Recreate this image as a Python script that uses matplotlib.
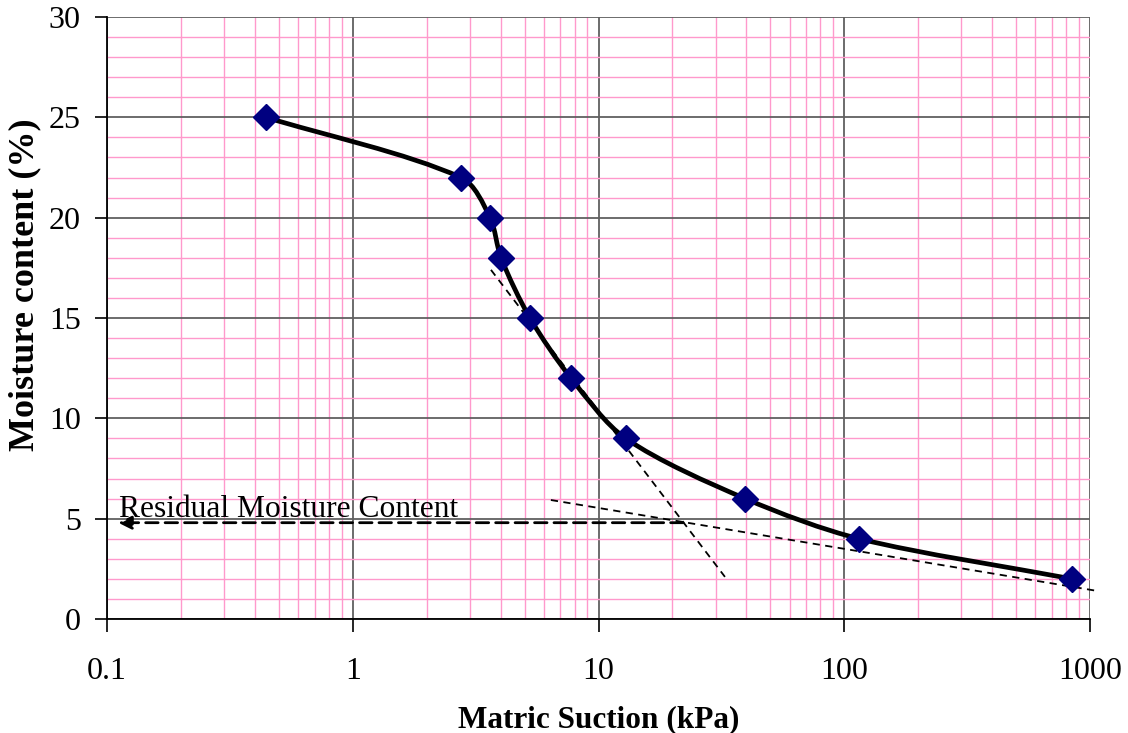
import numpy as np
import matplotlib
matplotlib.use("Agg")
import matplotlib.pyplot as plt
from matplotlib.path import Path
from matplotlib.patches import PathPatch
from matplotlib.ticker import LogLocator, MultipleLocator, FixedFormatter, FixedLocator

plt.rcParams["font.family"] = ["Liberation Serif", "DejaVu Serif"]

# measured points (suction in kPa, moisture content in %)
suction = [0.444, 2.76, 3.62, 4.01, 5.26, 7.73, 12.9, 39.5, 115.0, 845.0]
moisture = [25, 22, 20, 18, 15, 12, 9, 6, 4, 2]

# construction lines for residual moisture content
steep_x = [3.65, 32.7]
steep_y = [17.4, 2.1]
flat_x = [6.4, 1070.0]
flat_y = [5.93, 1.40]
resid_x = [22.1, 0.111]
resid_y = [4.8, 4.8]

x_ticks = [0.1, 1, 10, 100, 1000]
x_labels = ["0.1", "1", "10", "100", "1000"]

fig = plt.figure(figsize=(11.28, 7.33), dpi=100)
ax = fig.add_axes([0.0949, 0.1555, 0.8714, 0.8213])
ax.set_xscale("log")
ax.set_xlim(0.1, 1000)
ax.set_ylim(0, 30)

pink = "#ff99cc"
ax.xaxis.set_major_locator(FixedLocator(x_ticks))
ax.xaxis.set_major_formatter(FixedFormatter(x_labels))
ax.xaxis.set_minor_locator(LogLocator(base=10, subs=np.arange(2, 10)))
ax.xaxis.set_minor_formatter(plt.NullFormatter())
ax.yaxis.set_major_locator(MultipleLocator(5))
ax.yaxis.set_minor_locator(MultipleLocator(1))
ax.grid(which="minor", color=pink, lw=1.0)
ax.grid(which="major", color="#606060", lw=1.3)
ax.set_axisbelow(True)
ax.tick_params(which="minor", length=0)
ax.tick_params(which="major", direction="out", length=9, width=1.2, labelsize=23, color="black")
ax.tick_params(axis="x", pad=18)
ax.tick_params(axis="y", pad=10)
for s in ["top", "right"]:
    ax.spines[s].set_visible(False)
for s in ["left", "bottom"]:
    ax.spines[s].set_color("black")
    ax.spines[s].set_linewidth(1.3)

# smoothed line: Bezier segments built in display-like units (log-x decades vs %)
sx, sy = 245.75, 20.07
pts = np.column_stack([np.log10(suction) * sx, np.array(moisture, float) * sy])
n = len(pts)
verts = [pts[0]]
codes = [Path.MOVETO]
for i in range(n - 1):
    a = pts[max(i - 1, 0)]
    b = pts[min(i + 2, n - 1)]
    d = np.linalg.norm(pts[i + 1] - pts[i])
    t1 = pts[i + 1] - a
    t2 = b - pts[i]
    c1 = pts[i] + t1 / np.linalg.norm(t1) * d * 0.3
    c2 = pts[i + 1] - t2 / np.linalg.norm(t2) * d * 0.3
    verts += [c1, c2, pts[i + 1]]
    codes += [Path.CURVE4] * 3
verts = np.array(verts)
verts[:, 0] = 10 ** (verts[:, 0] / sx)
verts[:, 1] = verts[:, 1] / sy
ax.add_patch(PathPatch(Path(verts, codes), fill=False, lw=3.4, color="black", zorder=3))

ax.plot(suction, moisture, ls="none", marker="D", ms=13.5, color="#000080",
        mec="#000080", zorder=4)

ax.plot(steep_x, steep_y, ls=(0, (4, 3)), color="black", lw=1.3, zorder=2)
ax.plot(flat_x, flat_y, ls=(0, (4, 3)), color="black", lw=1.3, zorder=2, clip_on=False)
ax.annotate("", xy=(resid_x[1], resid_y[1]), xytext=(resid_x[0], resid_y[0]),
            arrowprops=dict(arrowstyle="-|>", color="black", lw=2.0, ls=(0, (4.5, 2.5)),
                            mutation_scale=20, shrinkA=0, shrinkB=0), zorder=2)
ax.text(0.112, 5.45, "Residual Moisture Content", fontsize=22.7, va="center", ha="left", zorder=5)

ax.set_xlabel("Matric Suction (kPa)", fontsize=22.5, fontweight="bold", labelpad=14)
ax.set_ylabel("Moisture content (%)", fontsize=26, fontweight="bold", va="center")
ax.yaxis.set_label_coords(-0.084, 0.555)

fig.savefig("out.png", dpi=100)
